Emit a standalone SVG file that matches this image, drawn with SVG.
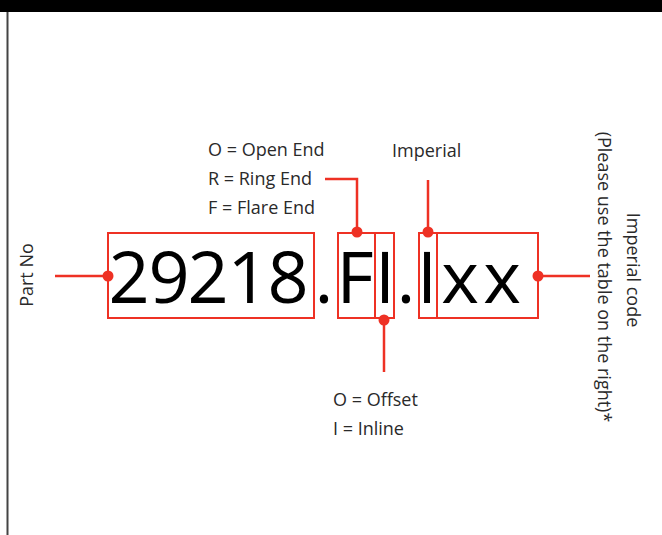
<svg xmlns="http://www.w3.org/2000/svg" width="662" height="535" viewBox="0 0 662 535">
<style>
.box{fill:none;stroke:#EE3124;stroke-width:2}
.ln{fill:none;stroke:#EE3124;stroke-width:2.5}
.dot{fill:#EE3124}
.lbl{font-family:"Open Sans","Noto Sans",sans-serif;font-size:18px;fill:#2a2a2a}
.big{font-family:"Open Sans","Noto Sans",sans-serif;font-size:72px;fill:#000}
</style>
<rect x="0" y="0" width="662" height="12" fill="#000"/>
<line x1="7.5" y1="12" x2="7.5" y2="535" stroke="#444" stroke-width="2"/>
<g id="code">
<text class="big" text-anchor="middle" x="129 169 208 248 288" y="303">29218</text>
<text class="big" text-anchor="middle" x="324 355 385 406 427 460 502" y="303">.FI.Ixx</text>
</g>
<g id="part-no">
<rect class="box" x="108" y="233" width="206" height="85"/>
<text class="lbl" text-anchor="middle" transform="translate(33,275) rotate(-90)">Part No</text>
</g>
<g id="end-type">
<rect class="box" x="338" y="233" width="37" height="85"/>
<text class="lbl" x="208" y="156">O = Open End</text>
<text class="lbl" x="208" y="185">R = Ring End</text>
<text class="lbl" x="208" y="214">F = Flare End</text>
</g>
<g id="inline-type">
<rect class="box" x="375" y="233" width="19" height="85"/>
<text class="lbl" x="333" y="406">O = Offset</text>
<text class="lbl" x="333" y="435">I = Inline</text>
</g>
<g id="imperial">
<rect class="box" x="419" y="233" width="18" height="85"/>
<text class="lbl" x="392" y="157">Imperial</text>
</g>
<g id="imperial-code">
<rect class="box" x="437" y="233" width="101" height="85"/>
<text class="lbl" text-anchor="middle" transform="translate(627,270) rotate(90)">Imperial code</text>
<text class="lbl" text-anchor="middle" transform="translate(598,277) rotate(90)">(Please use the table on the right)*</text>
</g>
<g id="connectors">
<line class="ln" x1="55" y1="276" x2="108" y2="276"/>
<circle class="dot" cx="108" cy="276" r="5.5"/>
<polyline class="ln" points="325,179 357,179 357,233"/>
<circle class="dot" cx="357" cy="232" r="5.5"/>
<line class="ln" x1="428" y1="180" x2="428" y2="233"/>
<circle class="dot" cx="428" cy="232" r="5.5"/>
<line class="ln" x1="384" y1="318" x2="384" y2="372"/>
<circle class="dot" cx="384" cy="320" r="5.5"/>
<line class="ln" x1="538" y1="276" x2="590" y2="276"/>
<circle class="dot" cx="538" cy="276" r="5.5"/>
</g>
</svg>
